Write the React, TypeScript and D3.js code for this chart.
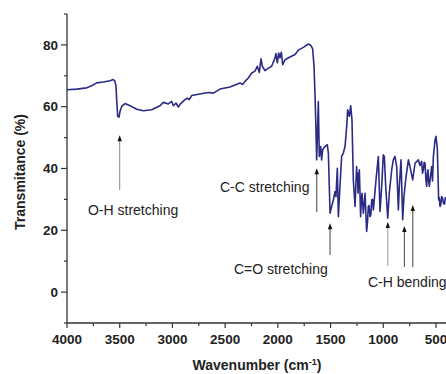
import React from "react";
import * as d3 from "d3";

const wavenumber = [4000,3908,3813,3766,3719,3655,3592,3561,3545,3535,3529,3519,3507,3497,3481,3450,3402,3339,3276,3197,3118,3086,3039,3007,2991,2966,2944,2922,2881,2859,2840,2818,2739,2659,2612,2549,2454,2359,2334,2312,2280,2248,2217,2195,2176,2160,2147,2122,2090,2059,2027,2018,2005,1992,1980,1967,1954,1932,1885,1837,1806,1758,1711,1689,1670,1657,1648,1641,1632,1626,1616,1607,1594,1585,1575,1553,1531,1521,1512,1505,1490,1474,1458,1449,1436,1426,1411,1395,1379,1363,1347,1338,1322,1309,1297,1284,1268,1253,1247,1244,1240,1227,1215,1208,1202,1189,1173,1158,1150,1142,1135,1126,1118,1110,1102,1094,1069,1047,1031,1015,1000,990,977,958,943,920,905,889,873,857,848,832,816,804,784,762,747,721,699,668,652,636,628,620,612,604,596,589,582,576,570,563,552,541,533,525,509,500,487,475,468,462,455,446,438,430,420,412,405];
const transmittance = [65.5,65.7,66.1,66.8,67.7,68.0,68.4,68.8,68.2,66.6,62.3,56.9,56.6,58.5,60.1,61.0,60.3,59.2,58.7,59.0,60.3,61.4,60.9,61.7,60.3,61.2,59.9,61.0,62.3,62.8,62.3,63.6,64.1,64.6,64.4,65.7,66.4,67.7,67.2,68.2,69.3,70.9,71.5,73.1,71.1,75.5,73.1,71.7,72.5,73.1,75.8,77.2,74.2,77.4,75.8,77.6,73.6,75.2,76.1,76.9,78.3,79.2,80.3,79.9,78.7,73.1,64.4,55.8,42.8,49.3,61.7,43.9,47.1,42.8,46.1,47.1,47.7,45.0,34.2,25.5,27.7,29.8,32.5,30.9,40.1,24.4,34.2,43.9,45.0,47.1,53.6,59.0,56.9,60.3,55.8,36.3,27.7,40.6,36.0,38.5,32.0,39.6,24.4,30.0,32.0,25.5,32.0,19.6,22.5,27.7,28.0,24.4,25.0,29.8,30.0,26.6,36.3,43.9,26.1,34.2,44.4,43.9,34.2,23.9,32.0,39.6,42.8,43.9,40.6,26.6,34.2,42.8,23.4,30.9,37.4,42.8,40.6,36.3,41.7,42.8,41.0,42.3,38.5,39.6,42.0,41.7,36.5,34.2,38.0,39.6,36.0,34.2,37.5,40.6,36.0,43.9,49.3,50.4,46.1,29.8,30.5,27.7,28.2,30.9,30.5,28.8,28.5,30.5,29.8];

const xTicks = [4000,3500,3000,2500,2000,1500,1000,500];
const xMinorTicks = [3750,3250,2750,2250,1750,1250,750];
const yTicks = [0,20,40,60,80];
const yMinorTicks = [-10,10,30,50,70,90];

// annotation arrows: wavenumber, tail transmittance, tip transmittance, stem colour
const arrowWn = [3500,1631,1505,957,800,720];
const arrowTail = [33.0,25.9,12.0,8.4,8.1,8.1];
const arrowTip = [50.8,40.1,22.3,22.7,21.4,28.2];
const arrowStem = ["#8a8a8a","#444","#444","#9a9a9a","#444","#444"];

const labelText = ["O-H stretching","C-C stretching","C=O stretching","C-H bending"];
const labelWn = [3801,2549,2416,1145];
const labelT = [24.9,32.4,5.8,1.6];

export default function App() {
  const W = 446, H = 374;
  const x = d3.scaleLinear().domain([4000, 500]).range([67, 436]);
  const y = d3.scaleLinear().domain([-10, 90]).range([323, 14]);
  const pts: [number, number][] = wavenumber.map((w, i) => [w, transmittance[i]]);
  const line = d3.line<[number, number]>().x(d => x(d[0])).y(d => y(d[1]));
  const axisColor = "#333";
  const font = "'Liberation Sans', Arial, sans-serif";
  return (
    <svg width={W} height={H} style={{ position: "absolute", left: 0, top: 0, background: "#fff" }}>
      <defs>
        <clipPath id="plot"><rect x={67} y={0} width={W - 67} height={323} /></clipPath>
      </defs>
      <g clipPath="url(#plot)">
        <path d={line(pts) || ""} fill="none" stroke="#2b2b86" strokeWidth={1.6} strokeLinejoin="round" />
      </g>
      {/* axes */}
      <line x1={67} x2={67} y1={14} y2={323} stroke={axisColor} strokeWidth={1.3} />
      <line x1={67} x2={W} y1={323} y2={323} stroke={axisColor} strokeWidth={1.3} />
      {yTicks.map(t => (
        <g key={"y" + t}>
          <line x1={61} x2={67} y1={y(t)} y2={y(t)} stroke={axisColor} strokeWidth={1.2} />
          <text x={58} y={y(t) + 4.7} textAnchor="end" fontFamily={font} fontWeight="bold" fontSize={13.5} fill="#222">{t}</text>
        </g>
      ))}
      {yMinorTicks.map(t => (
        <line key={"ym" + t} x1={64} x2={67} y1={y(t)} y2={y(t)} stroke={axisColor} strokeWidth={1.2} />
      ))}
      {xTicks.map(t => (
        <g key={"x" + t}>
          <line x1={x(t)} x2={x(t)} y1={323} y2={328} stroke={axisColor} strokeWidth={1.2} />
          <text x={x(t)} y={344} textAnchor="middle" fontFamily={font} fontWeight="bold" fontSize={13.5} fill="#222">{t}</text>
        </g>
      ))}
      {xMinorTicks.map(t => (
        <line key={"xm" + t} x1={x(t)} x2={x(t)} y1={323} y2={326} stroke={axisColor} strokeWidth={1.2} />
      ))}
      <text x={257} y={370} textAnchor="middle" fontFamily={font} fontWeight="bold" fontSize={14} fill="#222">
        Wavenumber (cm<tspan dy={-5} fontSize={9}>-1</tspan><tspan dy={5}>)</tspan>
      </text>
      <text transform="translate(25,172) rotate(-90)" textAnchor="middle" fontFamily={font} fontWeight="bold" fontSize={14} fill="#222">
        Transmitance (%)
      </text>
      {/* annotations */}
      {arrowWn.map((w, i) => {
        const ax = x(w), y0 = y(arrowTail[i]), y1 = y(arrowTip[i]);
        return (
          <g key={"a" + i}>
            <line x1={ax} x2={ax} y1={y0} y2={y1 + 4} stroke={arrowStem[i]} strokeWidth={1} />
            <path d={`M${ax},${y1} L${ax - 2.2},${y1 + 6} L${ax + 2.2},${y1 + 6} Z`} fill="#111" />
          </g>
        );
      })}
      {labelText.map((t, i) => (
        <text key={"l" + i} x={x(labelWn[i])} y={y(labelT[i])} fontFamily={font} fontSize={14} fill="#222">{t}</text>
      ))}
    </svg>
  );
}
